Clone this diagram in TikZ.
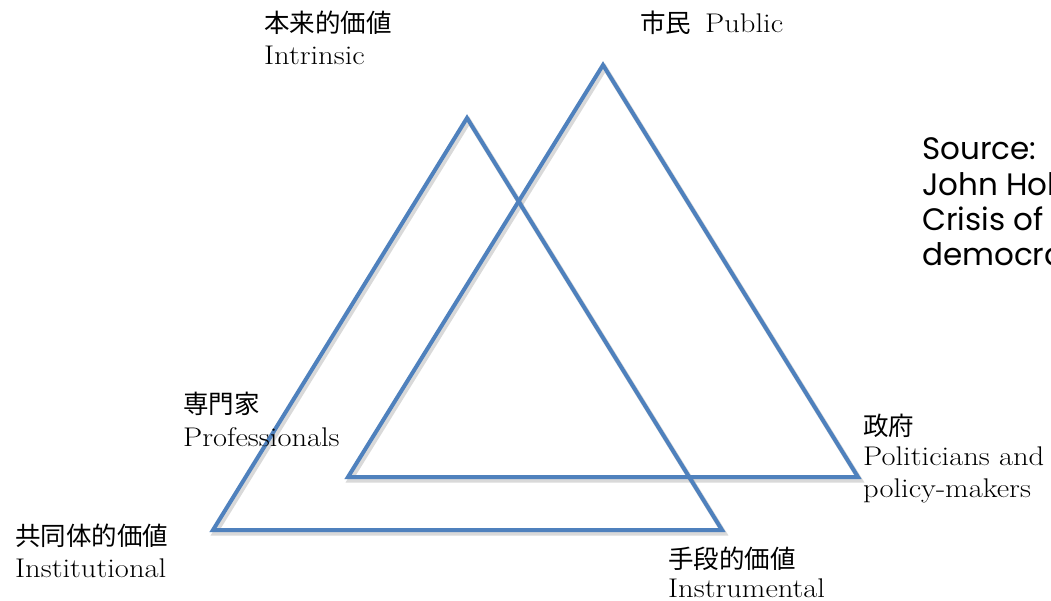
\documentclass[tikz,border=0pt]{standalone}
\usepackage{fontspec}
\newfontfamily\cjk{Noto Sans CJK JP}
\newfontfamily\srcfont{Poppins}
\newfontfamily\enfont[FakeStretch=1.13]{Latin Modern Roman}
\definecolor{triblue}{HTML}{4F81BD}
\begin{document}
\begin{tikzpicture}[x=1pt,y=-1pt,
  tri/.style={draw=triblue,line width=4pt,line join=miter},
  trishadow/.style={draw=black,opacity=0.15,line width=5pt,line join=miter},
  jp/.style={anchor=base west,inner sep=0pt,font=\cjk\fontsize{25.5}{30}\selectfont},
  en/.style={anchor=base west,inner sep=0pt,font=\enfont\fontsize{27}{32}\selectfont},
  src/.style={anchor=base west,inner sep=0pt,font=\srcfont\fontsize{31}{35}\selectfont}]
\useasboundingbox (0,0) rectangle (1051,601);
\clip (0,0) rectangle (1051,601);
\fill[white] (0,0) rectangle (1051,601);
% triangle corners
\coordinate (ia) at (467,118);
\coordinate (ib) at (213,530);
\coordinate (ic) at (722,530);
\coordinate (pa) at (603,65);
\coordinate (pb) at (348,477);
\coordinate (pc) at (858,477);
% shadows
\draw[trishadow,transform canvas={shift={(2pt,-3pt)}}] (ia) -- (ib) -- (ic) -- cycle;
\draw[trishadow,transform canvas={shift={(2pt,-3pt)}}] (pa) -- (pb) -- (pc) -- cycle;
% triangles
\draw[tri] (ia) -- (ib) -- (ic) -- cycle;
\draw[tri] (pa) -- (pb) -- (pc) -- cycle;
% labels
\node[jp] (intj) at (264,33) {本来的価値};
\node[en] (inte) at (264,65) {Intrinsic};
\node[jp] (pubj) at (640,33) {市民};
\node[en] (pube) at (705,33) {Public};
\node[jp] (proj) at (183,413) {専門家};
\node[en] (proe) at (183,446) {Professionals};
\node[jp] (insj) at (15,545) {共同体的価値};
\node[en] (inse) at (15,577) {Institutional};
\node[jp] (govj) at (863,435) {政府};
\node[en] (gove) at (863,465) {Politicians and};
\node[en] (gove2) at (863,497) {policy-makers};
\node[jp] (ismj) at (668,568) {手段的価値};
\node[en] (isme) at (668,597) {Instrumental};
% source
\node[src] (s1) at (922,160) {Source:};
\node[src] (s2) at (922,196) {John Holden,};
\node[src] (s3) at (922,231) {Crisis of Legitimacy};
\node[src] (s4) at (922,266) {democratic mandate};
\end{tikzpicture}
\end{document}
